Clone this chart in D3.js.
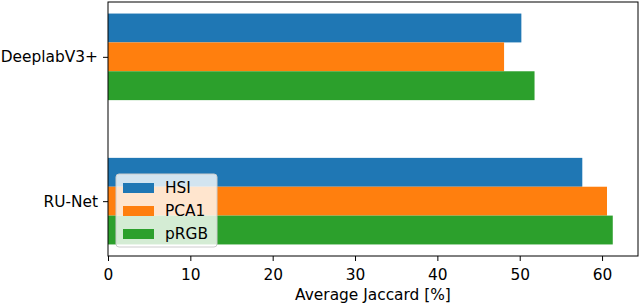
<!DOCTYPE html>
<html>
<head>
<meta charset="utf-8">
<script src="https://cdn.jsdelivr.net/npm/d3@7"></script>
<style>
  body { margin: 0; background: #fff; }
  svg { display: block; font-family: "DejaVu Sans", sans-serif; }
</style>
</head>
<body>
<div id="chart"></div>
<script>
const categories = ['DeeplabV3+', 'RU-Net'];
const seriesNames = ['HSI', 'PCA1', 'pRGB'];
const hsi = [50.2, 57.6];
const pca1 = [48.1, 60.6];
const prgb = [51.8, 61.3];
const xTicks = [0, 10, 20, 30, 40, 50, 60];

const colors = ['#1f77b4', '#ff7f0e', '#2ca02c'];
const series = [hsi, pca1, prgb];

const width = 640, height = 305;
const margin = {top: 2, right: 2, bottom: 49, left: 108};
const innerW = width - margin.left - margin.right;
const innerH = height - margin.top - margin.bottom;
const fontSize = 15.4;

const barH = 0.2;
const maxVal = d3.max(series, s => d3.max(s));

const x = d3.scaleLinear()
  .domain([0, maxVal * 1.05])
  .range([0, innerW]);

// category index 0 at top, bars of height 0.2 around each centre
const y = d3.scaleLinear()
  .domain([-0.38, categories.length - 1 + 0.38])
  .range([0, innerH]);

const svg = d3.select('#chart').append('svg')
  .attr('width', width)
  .attr('height', height);

const g = svg.append('g')
  .attr('transform', `translate(${margin.left},${margin.top})`);

series.forEach((values, j) => {
  g.selectAll(`.bar-${j}`)
    .data(values)
    .enter().append('rect')
    .attr('class', `bar bar-${j}`)
    .attr('x', x(0))
    .attr('y', (d, i) => y(i + (j - 1) * barH - barH / 2))
    .attr('width', d => x(d) - x(0))
    .attr('height', y(barH) - y(0))
    .attr('fill', colors[j]);
});

// axes
const xAxis = g.append('g')
  .attr('transform', `translate(0,${innerH})`)
  .call(d3.axisBottom(x).tickValues(xTicks).tickSize(5).tickPadding(8));

const yAxis = g.append('g')
  .call(d3.axisLeft(y)
    .tickValues(categories.map((c, i) => i))
    .tickFormat(i => categories[i])
    .tickSize(5).tickPadding(5));

[xAxis, yAxis].forEach(a => {
  a.select('.domain').remove();
  a.selectAll('text').attr('font-size', fontSize).attr('fill', '#000')
    .attr('font-family', '"DejaVu Sans", sans-serif');
  a.selectAll('line').attr('stroke', '#000').attr('stroke-width', 1);
});

// frame
g.append('rect')
  .attr('x', 0).attr('y', 0)
  .attr('width', innerW).attr('height', innerH)
  .attr('fill', 'none')
  .attr('stroke', '#000')
  .attr('stroke-width', 1);

g.append('text')
  .attr('x', innerW / 2)
  .attr('y', innerH + 44)
  .attr('text-anchor', 'middle')
  .attr('font-size', fontSize)
  .text('Average Jaccard [%]');

// legend
const legend = g.append('g')
  .attr('transform', `translate(8,${innerH - 82})`);

legend.append('rect')
  .attr('width', 101).attr('height', 73)
  .attr('rx', 3)
  .attr('fill', 'rgba(255,255,255,0.8)')
  .attr('stroke', '#ccc');

seriesNames.forEach((name, j) => {
  const row = legend.append('g')
    .attr('transform', `translate(7,${14 + j * 23})`);
  row.append('rect')
    .attr('x', 0).attr('y', -5)
    .attr('width', 31).attr('height', 10)
    .attr('fill', colors[j]);
  row.append('text')
    .attr('x', 42).attr('y', 0)
    .attr('dy', '0.35em')
    .attr('font-size', fontSize)
    .text(name);
});
</script>
</body>
</html>
